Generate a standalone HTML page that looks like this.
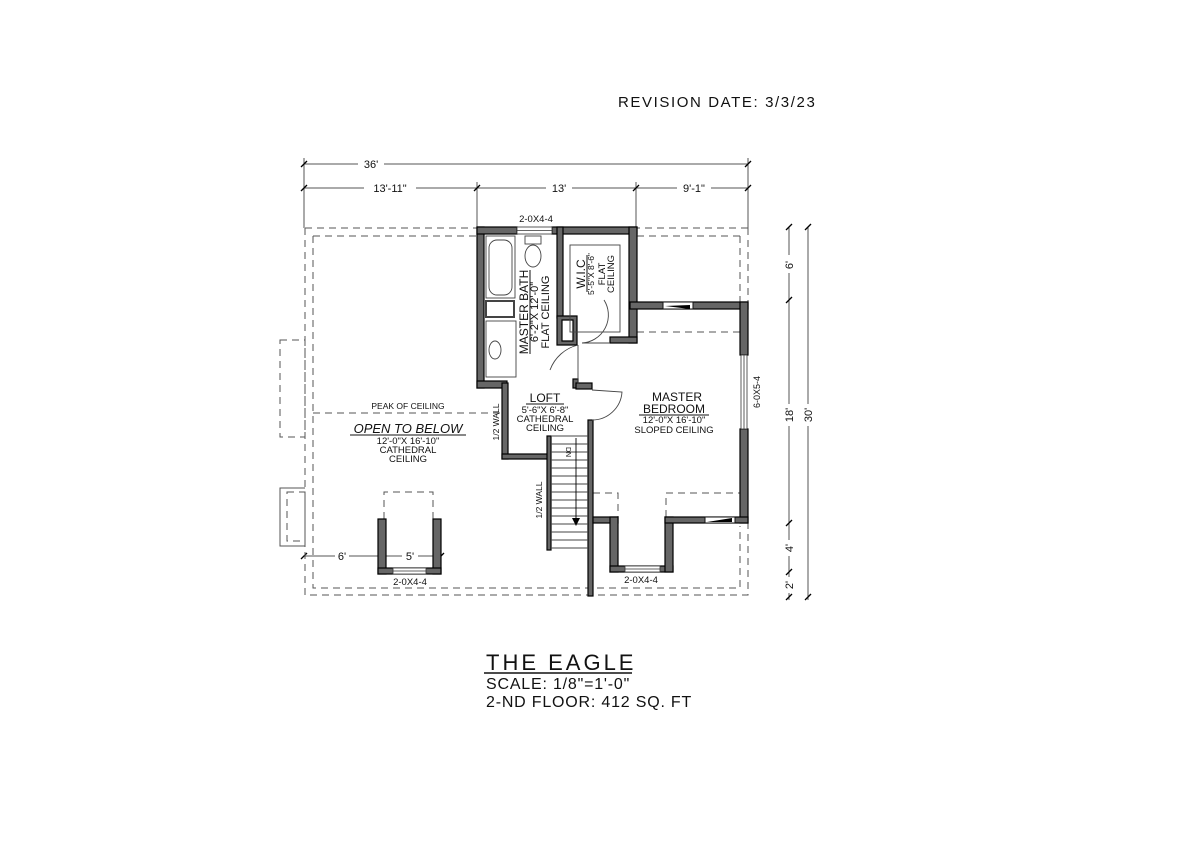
<!DOCTYPE html>
<html><head><meta charset="utf-8"><style>
html,body{margin:0;padding:0;background:#fff;}
svg{display:block;}
text{font-family:"Liberation Sans",sans-serif;fill:#111;}
</style></head><body>
<svg width="1200" height="848" viewBox="0 0 1200 848" xmlns="http://www.w3.org/2000/svg">
<rect width="1200" height="848" fill="#fff"/>
<text x="618" y="107" font-size="15" letter-spacing="1.6">REVISION DATE: 3/3/23</text>

<g stroke="#555" stroke-width="1" fill="none">
<line x1="304" y1="164" x2="748" y2="164"/>
<line x1="304" y1="188" x2="748" y2="188"/>
<line x1="304" y1="158" x2="304" y2="228"/>
<line x1="477" y1="182" x2="477" y2="227"/>
<line x1="636" y1="182" x2="636" y2="227"/>
<line x1="748" y1="158" x2="748" y2="228"/>
<line x1="789" y1="227" x2="789" y2="600"/>
<line x1="808" y1="227" x2="808" y2="600"/>
<line x1="304" y1="556" x2="441" y2="556"/>
</g>
<g stroke="#000" stroke-width="1.3">
<line x1="301" y1="167" x2="307" y2="161"/><line x1="745" y1="167" x2="751" y2="161"/>
<line x1="301" y1="191" x2="307" y2="185"/><line x1="474" y1="191" x2="480" y2="185"/>
<line x1="633" y1="191" x2="639" y2="185"/><line x1="745" y1="191" x2="751" y2="185"/>
<line x1="786" y1="230" x2="792" y2="224"/><line x1="786" y1="303" x2="792" y2="297"/>
<line x1="786" y1="526" x2="792" y2="520"/><line x1="786" y1="575" x2="792" y2="569"/>
<line x1="786" y1="600" x2="792" y2="594"/>
<line x1="805" y1="230" x2="811" y2="224"/><line x1="805" y1="600" x2="811" y2="594"/>
<line x1="301" y1="559" x2="307" y2="553"/><line x1="378" y1="559" x2="384" y2="553"/><line x1="438" y1="559" x2="444" y2="553"/>
</g>
<g font-size="11" text-anchor="middle">
<rect x="358" y="157" width="26" height="13" fill="#fff"/><text x="371" y="168">36'</text>
<rect x="364" y="181" width="52" height="13" fill="#fff"/><text x="390" y="192">13'-11"</text>
<rect x="546" y="181" width="26" height="13" fill="#fff"/><text x="559" y="192">13'</text>
<rect x="677" y="181" width="34" height="13" fill="#fff"/><text x="694" y="192">9'-1"</text>
<rect x="335" y="550" width="14" height="12" fill="#fff"/><text x="342" y="560">6'</text>
<rect x="402" y="550" width="16" height="12" fill="#fff"/><text x="410" y="560">5'</text>
</g>
<g font-size="11" text-anchor="middle">
<rect x="783" y="255" width="12" height="18" fill="#fff"/><text transform="translate(793,265) rotate(-90)">6'</text>
<rect x="783" y="404" width="12" height="22" fill="#fff"/><text transform="translate(793,415) rotate(-90)">18'</text>
<rect x="802" y="404" width="12" height="22" fill="#fff"/><text transform="translate(812,415) rotate(-90)">30'</text>
<rect x="783" y="540" width="12" height="16" fill="#fff"/><text transform="translate(793,548) rotate(-90)">4'</text>
<rect x="783" y="577" width="12" height="16" fill="#fff"/><text transform="translate(793,585) rotate(-90)">2'</text>
</g>

<g stroke="#555" stroke-width="1" fill="none" stroke-dasharray="7,5">
<path d="M305 228 H477 M305 228 V595 H748 V520"/>
<path d="M313 236 H477 M313 236 V588 H740 V526"/>
<path d="M740 236 H636 M748 228 H636"/>
<line x1="740" y1="236" x2="740" y2="303"/><line x1="748" y1="228" x2="748" y2="303"/>
<line x1="313" y1="413" x2="500" y2="413"/>
<line x1="637" y1="332" x2="740" y2="332"/>
<rect x="280" y="340" width="25" height="97"/>
<rect x="287" y="492" width="18" height="49"/>
<path d="M384 519 V492 H433 V519"/>
<path d="M593 493 H618 V517"/>
<path d="M666 517 V493 H740"/>
<line x1="593" y1="493" x2="593" y2="500"/>
</g>
<path d="M305 488 H280 V546 H305" stroke="#555" fill="none"/>

<g fill="#666" stroke="#000" stroke-width="1.2">
<rect x="477" y="227" width="7" height="161"/>
<rect x="477" y="227" width="40" height="7"/>
<rect x="552" y="227" width="85" height="7"/>
<rect x="557" y="227" width="6" height="91"/>
<path d="M557 316 H577 V345 H557 Z M562 320 V341 H573 V320 Z" fill-rule="evenodd"/>
<rect x="629" y="227" width="8" height="116"/>
<rect x="610" y="337" width="27" height="6"/>
<rect x="630" y="302" width="118" height="7"/>
<rect x="740" y="302" width="8" height="53"/>
<rect x="740" y="429" width="8" height="94"/>
<rect x="477" y="381" width="30" height="7"/>
<rect x="573" y="379" width="5" height="9"/>
<rect x="502" y="383" width="6" height="76"/>
<rect x="576" y="383" width="16" height="6"/>
<rect x="502" y="454" width="48" height="5"/>
<rect x="547" y="436" width="4" height="114"/>
<rect x="588" y="420" width="5" height="176"/>
<rect x="593" y="517" width="25" height="6"/>
<rect x="610" y="517" width="8" height="55"/>
<rect x="610" y="566" width="63" height="6"/>
<rect x="665" y="517" width="8" height="55"/>
<rect x="665" y="517" width="83" height="6"/>
<rect x="378" y="519" width="8" height="55"/>
<rect x="433" y="519" width="8" height="55"/>
<rect x="378" y="568" width="63" height="6"/>
</g>
<g fill="#fff" stroke="#333" stroke-width="0.8">
<rect x="517" y="227" width="35" height="7"/><line x1="517" y1="230.5" x2="552" y2="230.5"/>
<rect x="741" y="355" width="6" height="74"/><line x1="744" y1="355" x2="744" y2="429"/>
<rect x="625" y="566" width="35" height="6"/><line x1="625" y1="569" x2="660" y2="569"/>
<rect x="393" y="568" width="33" height="6"/><line x1="393" y1="571" x2="426" y2="571"/>
</g>
<rect x="663" y="302" width="30" height="7" fill="#fff" stroke="#111"/>
<path d="M665 306 L690 305 L690 309 Z" fill="#000"/>
<rect x="705" y="517" width="30" height="6" fill="#fff" stroke="#111"/>
<path d="M707 522 L732 518 L732 522 Z" fill="#000"/>

<g fill="none" stroke="#444" stroke-width="0.9">
<rect x="486" y="236" width="29" height="62"/>
<rect x="489" y="240" width="23" height="55" rx="8"/>
<rect x="486" y="301" width="28" height="16" stroke-width="2"/>
<rect x="486" y="321" width="30" height="56"/>
<ellipse cx="495" cy="350" rx="6" ry="9"/>
<rect x="525" y="236" width="16" height="8"/>
<ellipse cx="533" cy="256" rx="8" ry="11"/>
<rect x="570" y="245" width="50" height="87"/>
<path d="M578 345 L578 384 M578 345 A40 40 0 0 0 550 370" />
<path d="M610 343 L582 343 M582 343 A28 28 0 0 0 604 300"/>
<path d="M592 390 L622 392 A30 30 0 0 1 592 420"/>
</g>
<g stroke="#444" stroke-width="0.9">
<line x1="551" y1="436" x2="588" y2="436"/><line x1="551" y1="444" x2="588" y2="444"/>
<line x1="551" y1="452" x2="588" y2="452"/><line x1="551" y1="460" x2="588" y2="460"/>
<line x1="551" y1="468" x2="588" y2="468"/><line x1="551" y1="476" x2="588" y2="476"/>
<line x1="551" y1="484" x2="588" y2="484"/><line x1="551" y1="492" x2="588" y2="492"/>
<line x1="551" y1="500" x2="588" y2="500"/><line x1="551" y1="508" x2="588" y2="508"/>
<line x1="551" y1="516" x2="588" y2="516"/><line x1="551" y1="524" x2="588" y2="524"/>
<line x1="551" y1="532" x2="588" y2="532"/><line x1="551" y1="540" x2="588" y2="540"/>
<line x1="551" y1="548" x2="588" y2="548"/>
<line x1="576" y1="438" x2="576" y2="520" stroke="#000"/>
</g>
<path d="M572 518 L576 526 L580 518 Z" fill="#000"/>

<g font-size="9.5" text-anchor="middle">
<text x="536" y="222">2-0X4-4</text>
<text x="410" y="585">2-0X4-4</text>
<text x="641" y="583">2-0X4-4</text>
<text x="408" y="409" font-size="8.5">PEAK OF CEILING</text>
<text x="408" y="433" font-size="13" font-style="italic">OPEN TO BELOW</text>
<line x1="350" y1="435" x2="466" y2="435" stroke="#111"/>
<text x="408" y="444">12'-0"X 16'-10"</text>
<text x="408" y="453">CATHEDRAL</text>
<text x="408" y="462">CEILING</text>
<text x="545" y="402" font-size="12">LOFT</text>
<line x1="526" y1="404" x2="564" y2="404" stroke="#111"/>
<text x="545" y="413">5'-6"X 6'-8"</text>
<text x="545" y="422">CATHEDRAL</text>
<text x="545" y="431">CEILING</text>
<text x="677" y="401" font-size="12">MASTER</text>
<text x="674" y="413" font-size="12">BEDROOM</text>
<line x1="639" y1="415" x2="709" y2="415" stroke="#111"/>
<text x="674" y="423">12'-0"X 16'-10"</text>
<text x="674" y="433">SLOPED CEILING</text>
<text transform="translate(528,312) rotate(-90)" font-size="12">MASTER BATH</text>
<text transform="translate(538,312) rotate(-90)" font-size="11">6'-2"X 12'-0"</text>
<text transform="translate(549,312) rotate(-90)" font-size="11">FLAT CEILING</text>
<line x1="530" y1="270" x2="530" y2="354" stroke="#111"/>
<text transform="translate(585,274) rotate(-90)" font-size="12">W.I.C</text>
<line x1="587" y1="255" x2="587" y2="292" stroke="#111"/>
<text transform="translate(594,274) rotate(-90)" font-size="8.5">5'-5"X 8'-6"</text>
<text transform="translate(605,274) rotate(-90)">FLAT</text>
<text transform="translate(614,274) rotate(-90)">CEILING</text>
<text transform="translate(499,422) rotate(-90)" font-size="8.5">1/2 WALL</text>
<text transform="translate(542,500) rotate(-90)" font-size="8.5">1/2 WALL</text>
<text transform="translate(566,452) rotate(90)" font-size="7">DN</text>
<text transform="translate(760,392) rotate(-90)" font-size="9">6-0X5-4</text>
</g>

<text x="486" y="670" font-size="22" letter-spacing="3">THE EAGLE</text>
<line x1="484" y1="673" x2="632" y2="673" stroke="#111" stroke-width="1.5"/>
<text x="486" y="689" font-size="16" letter-spacing="0.8">SCALE: 1/8"=1'-0"</text>
<text x="486" y="707" font-size="16" letter-spacing="0.8">2-ND FLOOR: 412 SQ. FT</text>
</svg>
</body></html>
